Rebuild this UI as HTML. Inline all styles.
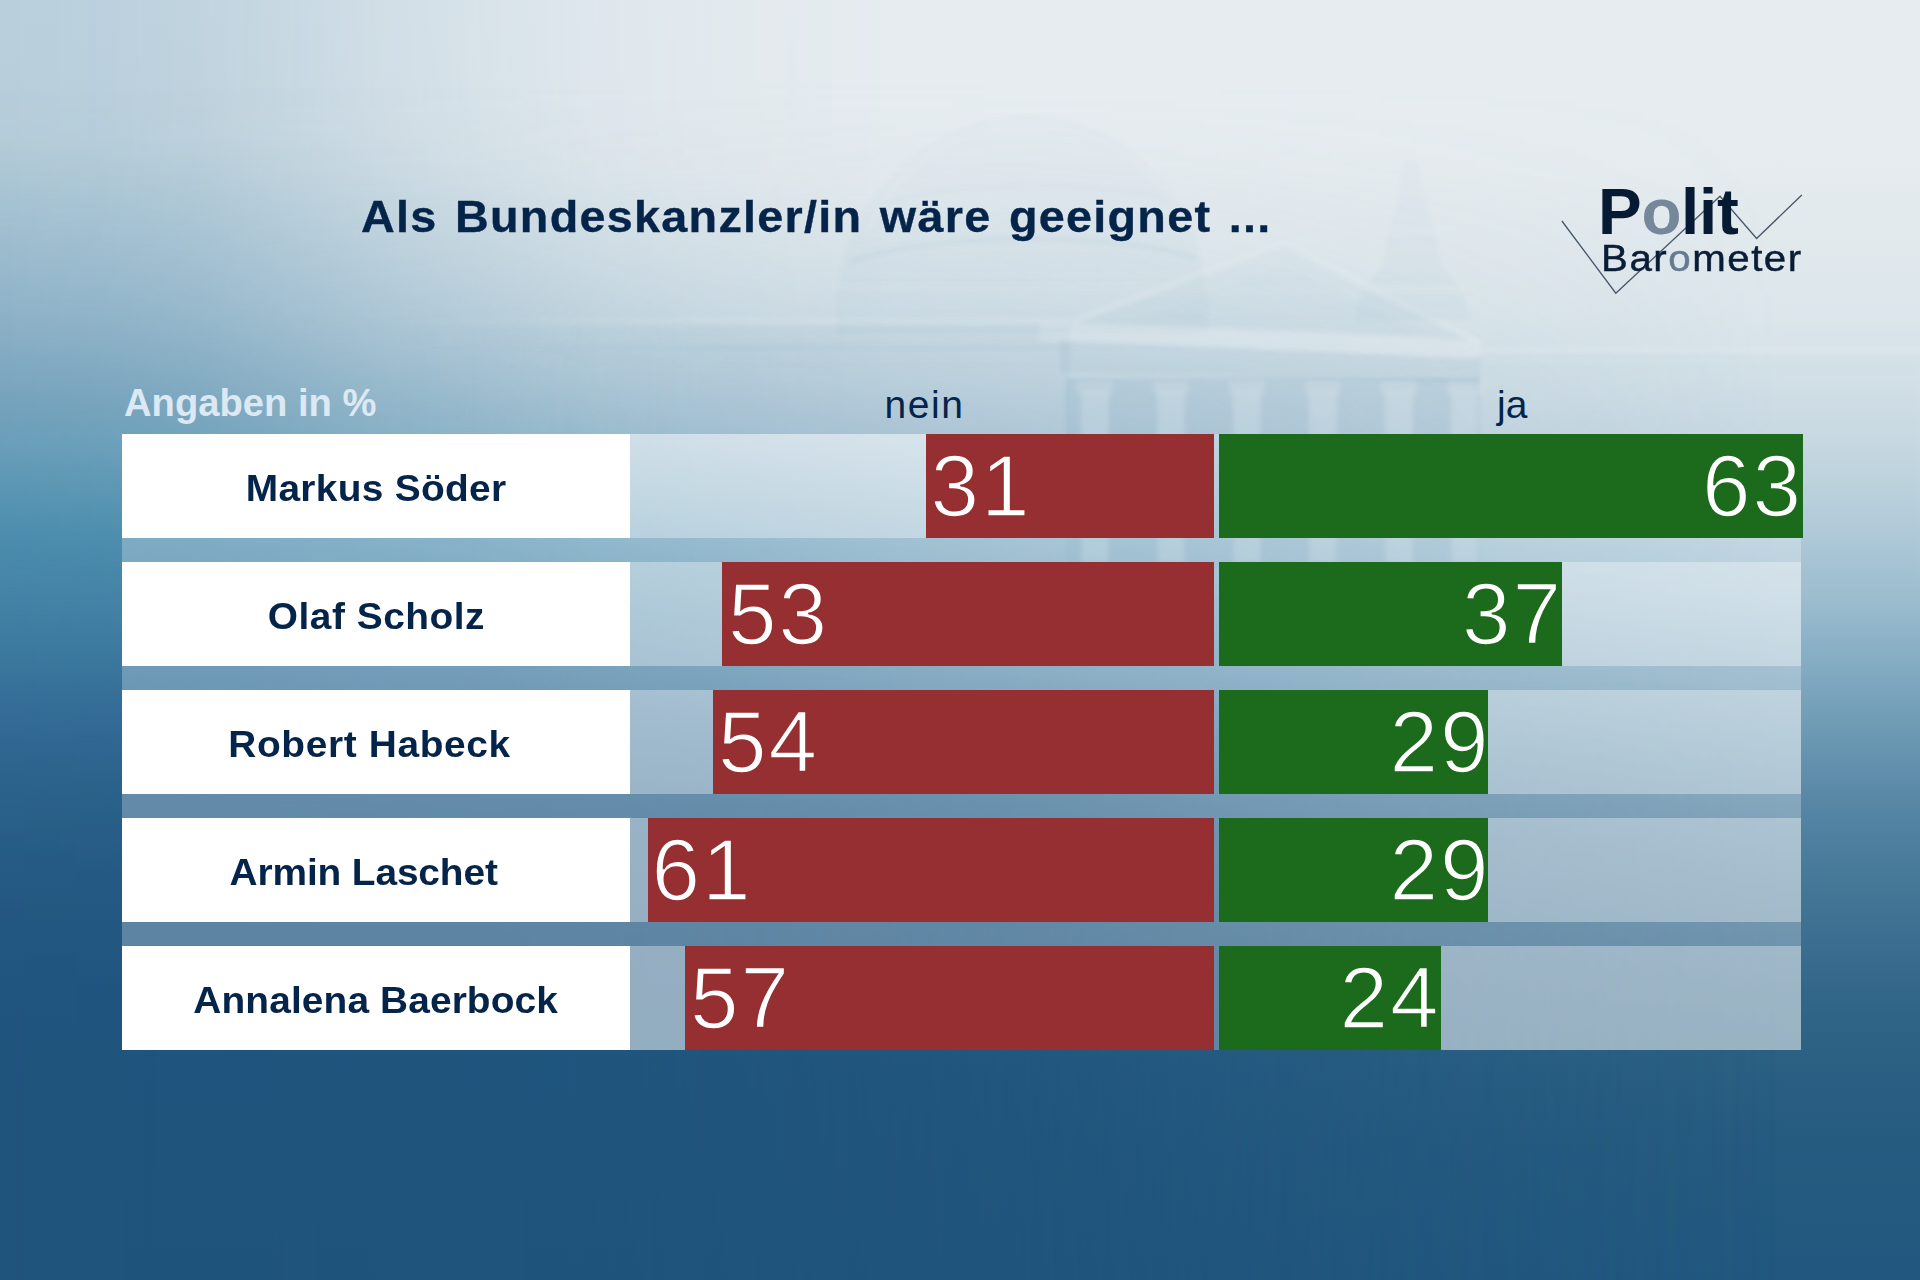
<!DOCTYPE html>
<html lang="de">
<head>
<meta charset="utf-8">
<title>Politbarometer</title>
<style>
*{margin:0;padding:0;box-sizing:border-box}
html,body{width:1920px;height:1280px;overflow:hidden}
body{position:relative;font-family:"Liberation Sans",sans-serif;background:#1f567d;color:#05244a}
.abs{position:absolute}
#bgR{left:0;top:0;width:1920px;height:1280px;background:linear-gradient(to bottom,#e6ecf0 0px,#e6ecf0 100px,#e5ebef 170px,#e1e9ed 240px,#dce6eb 310px,#d5e1e8 380px,#d0dde6 412px,#cbdae3 440px,#bed3de 490px,#b0cad8 540px,#9fbfd0 590px,#8db2c7 640px,#7ba5bd 690px,#6a97b2 740px,#5b8aa8 790px,#4e7f9f 840px,#447696 890px,#3b6e90 940px,#33678a 990px,#2d6285 1040px,#2a5f83 1080px,#265b80 1150px,#22587f 1280px)}
#bgL{left:0;top:0;width:1920px;height:1280px;background:linear-gradient(to bottom,#b9cfdc 0px,#b8cedb 69px,#b5ccd9 137px,#adc7d5 172px,#a5c2d2 206px,#9ebdcf 240px,#97b8cc 275px,#8fb3c8 309px,#86adc4 344px,#7ca7bf 378px,#72a1bb 412px,#6b9fba 440px,#5a96b3 490px,#4b8cad 540px,#4584a6 590px,#3e7ba0 640px,#37719a 690px,#306892 740px,#2b628b 790px,#275d86 840px,#245983 890px,#225781 940px,#20557f 990px,#1f547d 1080px,#1f547c 1280px);-webkit-mask-image:linear-gradient(to right,rgba(0,0,0,1) 0px,rgba(0,0,0,0.95) 100px,rgba(0,0,0,0.84) 200px,rgba(0,0,0,0.64) 300px,rgba(0,0,0,0.44) 400px,rgba(0,0,0,0.28) 500px,rgba(0,0,0,0.15) 600px,rgba(0,0,0,0.08) 700px,rgba(0,0,0,0.03) 800px,rgba(0,0,0,0) 900px);mask-image:linear-gradient(to right,rgba(0,0,0,1) 0px,rgba(0,0,0,0.95) 100px,rgba(0,0,0,0.84) 200px,rgba(0,0,0,0.64) 300px,rgba(0,0,0,0.44) 400px,rgba(0,0,0,0.28) 500px,rgba(0,0,0,0.15) 600px,rgba(0,0,0,0.08) 700px,rgba(0,0,0,0.03) 800px,rgba(0,0,0,0) 900px)}
#bgL2v{left:0;top:0;width:1920px;height:1280px;-webkit-mask-image:linear-gradient(to bottom,rgba(0,0,0,0) 80px,rgba(0,0,0,0.06) 170px,rgba(0,0,0,0.28) 310px,rgba(0,0,0,0.5) 430px,rgba(0,0,0,0.87) 550px,rgba(0,0,0,1) 620px);mask-image:linear-gradient(to bottom,rgba(0,0,0,0) 80px,rgba(0,0,0,0.06) 170px,rgba(0,0,0,0.28) 310px,rgba(0,0,0,0.5) 430px,rgba(0,0,0,0.87) 550px,rgba(0,0,0,1) 620px)}
#bgL2{left:0;top:0;width:1920px;height:1280px;background:linear-gradient(to bottom,#b9cfdc 0px,#b8cedb 69px,#b5ccd9 137px,#adc7d5 172px,#a5c2d2 206px,#9ebdcf 240px,#97b8cc 275px,#8fb3c8 309px,#86adc4 344px,#7ca7bf 378px,#72a1bb 412px,#6b9fba 440px,#5a96b3 490px,#4b8cad 540px,#4584a6 590px,#3e7ba0 640px,#37719a 690px,#306892 740px,#2b628b 790px,#275d86 840px,#245983 890px,#225781 940px,#20557f 990px,#1f547d 1080px,#1f547c 1280px);-webkit-mask-image:linear-gradient(to right,rgba(0,0,0,1) 0px,rgba(0,0,0,0.89) 300px,rgba(0,0,0,0.87) 480px,rgba(0,0,0,0.73) 650px,rgba(0,0,0,0.63) 800px,rgba(0,0,0,0.49) 1000px,rgba(0,0,0,0.36) 1200px,rgba(0,0,0,0.22) 1400px,rgba(0,0,0,0.11) 1600px,rgba(0,0,0,0) 1780px);mask-image:linear-gradient(to right,rgba(0,0,0,1) 0px,rgba(0,0,0,0.89) 300px,rgba(0,0,0,0.87) 480px,rgba(0,0,0,0.73) 650px,rgba(0,0,0,0.63) 800px,rgba(0,0,0,0.49) 1000px,rgba(0,0,0,0.36) 1200px,rgba(0,0,0,0.22) 1400px,rgba(0,0,0,0.11) 1600px,rgba(0,0,0,0) 1780px)}
#bgL3v{left:0;top:0;width:1920px;height:1280px;-webkit-mask-image:linear-gradient(to bottom,rgba(0,0,0,0) 678px,rgba(0,0,0,1) 806px);mask-image:linear-gradient(to bottom,rgba(0,0,0,0) 678px,rgba(0,0,0,1) 806px)}
#bgL3{left:0;top:0;width:1920px;height:1280px;background:linear-gradient(to bottom,#b9cfdc 0px,#b8cedb 69px,#b5ccd9 137px,#adc7d5 172px,#a5c2d2 206px,#9ebdcf 240px,#97b8cc 275px,#8fb3c8 309px,#86adc4 344px,#7ca7bf 378px,#72a1bb 412px,#6b9fba 440px,#5a96b3 490px,#4b8cad 540px,#4584a6 590px,#3e7ba0 640px,#37719a 690px,#306892 740px,#2b628b 790px,#275d86 840px,#245983 890px,#225781 940px,#20557f 990px,#1f547d 1080px,#1f547c 1280px);-webkit-mask-image:linear-gradient(to right,rgba(0,0,0,0.8) 0px,rgba(0,0,0,0.75) 650px,rgba(0,0,0,0.69) 800px,rgba(0,0,0,0.57) 1000px,rgba(0,0,0,0.31) 1200px,rgba(0,0,0,0.14) 1400px,rgba(0,0,0,0.07) 1600px,rgba(0,0,0,0) 1780px);mask-image:linear-gradient(to right,rgba(0,0,0,0.8) 0px,rgba(0,0,0,0.75) 650px,rgba(0,0,0,0.69) 800px,rgba(0,0,0,0.57) 1000px,rgba(0,0,0,0.31) 1200px,rgba(0,0,0,0.14) 1400px,rgba(0,0,0,0.07) 1600px,rgba(0,0,0,0) 1780px)}
#title{left:360.5px;top:191.3px;font-size:44.5px;font-weight:bold;line-height:52px;white-space:nowrap;letter-spacing:1.224px;word-spacing:3px;color:#05244a;-webkit-text-stroke:.35px #05244a;transform:scaleX(1.05);transform-origin:0 0}
#angaben{left:124px;top:380px;font-size:38.2px;font-weight:bold;line-height:46px;white-space:nowrap;color:#dce9f2}
.hdr{font-size:39px;line-height:46px;white-space:nowrap;color:#05244a}
#polit{left:1598px;top:175px;font-size:65.5px;font-weight:bold;line-height:74px;letter-spacing:-0.3px;white-space:nowrap;color:#061a33}
#polit .go{color:#74879b}
#baro{left:1600.5px;top:237.5px;font-size:36.6px;line-height:42px;letter-spacing:1.4px;white-space:nowrap;color:#0a1d36;transform:scaleX(1.1);transform-origin:0 0;-webkit-text-stroke:.45px #0a1d36}
#baro .go2{color:#66798f;-webkit-text-stroke:.45px #66798f}
#panel{left:122px;top:434px;width:1679px;height:616px;background:rgba(255,255,255,.27)}
.row{left:122px;width:1679px;height:104px}
.trk{top:0;height:104px;background:rgba(255,255,255,.345)}
.name{left:0;top:0;width:508px;height:104px;background:#fff;text-align:center;font-weight:bold;font-size:37px;line-height:110px;color:#05244a;white-space:nowrap}
.name span{display:inline-block;transform:scaleX(1.05);transform-origin:50% 50%}
.red{top:0;height:104px;background:#962f31}
.green{top:0;height:104px;left:1097px;background:#1c6b1c}
.num{position:absolute;top:0;font-size:87.3px;line-height:104px;letter-spacing:2px;color:#fff;white-space:nowrap}
.red .num{left:5px;-webkit-text-stroke:1.7px #962f31}
.green .num{right:1px;-webkit-text-stroke:1.7px #1c6b1c}
</style>
</head>
<body>
<div id="bgR" class="abs"></div>
<div id="bgL" class="abs"></div>
<div id="bgL2v" class="abs"><div id="bgL2" class="abs"></div></div>
<div id="bgL3v" class="abs"><div id="bgL3" class="abs"></div></div>


<svg id="bld" class="abs" style="left:0;top:0;opacity:.72;-webkit-mask-image:linear-gradient(to bottom,rgba(0,0,0,.3) 100px,rgba(0,0,0,.55) 240px,#000 380px);mask-image:linear-gradient(to bottom,rgba(0,0,0,.3) 100px,rgba(0,0,0,.55) 240px,#000 380px)" width="1920" height="700" viewBox="0 0 1920 700">
 <defs><linearGradient id="lw" x1="0" y1="0" x2="1" y2="0"><stop offset="0" stop-color="#5e93b3" stop-opacity="0"/><stop offset=".5" stop-color="#5e93b3" stop-opacity=".1"/><stop offset="1" stop-color="#5e93b3" stop-opacity=".1"/></linearGradient><linearGradient id="lw2" x1="0" y1="0" x2="1" y2="0"><stop offset="0" stop-color="#fff" stop-opacity="0"/><stop offset=".5" stop-color="#fff" stop-opacity=".2"/><stop offset="1" stop-color="#fff" stop-opacity=".2"/></linearGradient><filter id="bl" x="-5%" y="-5%" width="110%" height="110%"><feGaussianBlur stdDeviation="2.2"/></filter></defs>
 <g filter="url(#bl)">
  <!-- dome -->
  <path d="M838,288 C846,196 930,116 1028,116 C1120,116 1196,190 1206,290 Z" fill="#5e93b3" fill-opacity=".09"/>
  <path d="M868,230 C900,160 960,128 1028,126 C1098,128 1158,160 1182,226" fill="none" stroke="#ffffff" stroke-opacity=".18" stroke-width="3"/>
  <path d="M850,262 C930,232 1120,232 1196,258" fill="none" stroke="#5e93b3" stroke-opacity=".16" stroke-width="5"/>
  <path d="M880,205 C950,180 1100,180 1172,200" fill="none" stroke="#5e93b3" stroke-opacity=".10" stroke-width="4"/>
  <!-- drum / attic under dome -->
  <rect x="836" y="284" width="372" height="50" fill="#5e93b3" fill-opacity=".08"/>
  <rect x="836" y="284" width="372" height="5" fill="#ffffff" fill-opacity=".2"/>
  <!-- left wing -->
  <rect x="380" y="322" width="690" height="260" fill="url(#lw)"/>
  <rect x="380" y="318" width="690" height="7" fill="url(#lw2)"/>
  <rect x="380" y="345" width="690" height="5" fill="url(#lw)"/>
  <!-- right wing -->
  <rect x="1476" y="352" width="444" height="230" fill="#5e93b3" fill-opacity=".04"/>
  <rect x="1476" y="348" width="444" height="6" fill="#ffffff" fill-opacity=".16"/>
  <!-- pediment -->
  <polygon points="1072,322 1284,243 1478,342" fill="#5e93b3" fill-opacity=".08"/>
  <polyline points="1072,322 1284,243 1478,342" fill="none" stroke="#ffffff" stroke-opacity=".28" stroke-width="5"/>
  <polygon points="1130,322 1284,266 1424,334" fill="#5e93b3" fill-opacity=".05"/>
  <!-- entablature -->
  <polygon points="1040,322 1480,340 1480,358 1040,340" fill="#ffffff" fill-opacity=".22"/>
  <polygon points="1060,340 1480,358 1480,384 1060,372" fill="#5e93b3" fill-opacity=".14"/>
  <!-- portico dark -->
  <rect x="1066" y="378" width="414" height="190" fill="#4f86a8" fill-opacity=".2"/>
  <rect x="1082" y="392" width="26" height="170" fill="#ffffff" fill-opacity=".22"/>
<rect x="1078" y="382" width="34" height="12" fill="#ffffff" fill-opacity=".18"/>
<rect x="1158" y="392" width="26" height="170" fill="#ffffff" fill-opacity=".22"/>
<rect x="1154" y="382" width="34" height="12" fill="#ffffff" fill-opacity=".18"/>
<rect x="1234" y="392" width="26" height="170" fill="#ffffff" fill-opacity=".22"/>
<rect x="1230" y="382" width="34" height="12" fill="#ffffff" fill-opacity=".18"/>
<rect x="1310" y="392" width="26" height="170" fill="#ffffff" fill-opacity=".22"/>
<rect x="1306" y="382" width="34" height="12" fill="#ffffff" fill-opacity=".18"/>
<rect x="1386" y="392" width="26" height="170" fill="#ffffff" fill-opacity=".22"/>
<rect x="1382" y="382" width="34" height="12" fill="#ffffff" fill-opacity=".18"/>
<rect x="1452" y="392" width="26" height="170" fill="#ffffff" fill-opacity=".22"/>
<rect x="1448" y="382" width="34" height="12" fill="#ffffff" fill-opacity=".18"/>

  <!-- tower right -->
  <polygon points="1404,162 1416,162 1424,196 1436,232 1440,262 1462,290 1470,320 1356,320 1362,290 1384,262 1388,232 1398,196" fill="#5e93b3" fill-opacity=".10"/>
  <rect x="1386" y="228" width="52" height="5" fill="#ffffff" fill-opacity=".18"/>
  <rect x="1364" y="286" width="100" height="6" fill="#ffffff" fill-opacity=".18"/>
 </g>
</svg>

<div id="title" class="abs">Als Bundeskanzler/in wäre geeignet ...</div>


<svg class="abs" id="zig" style="left:1540px;top:170px" width="280" height="140" viewBox="0 0 280 140">
 <polyline points="21.9,51 75.8,123.2 180,26.2 216.6,68.5 261.8,25" fill="none" stroke="#46566a" stroke-width="1.3" stroke-linejoin="miter"/>
</svg>
<div id="polit" class="abs">P<span class="go">o</span>lit</div>
<div id="baro" class="abs">Bar<span class="go2">o</span>meter</div>

<div id="angaben" class="abs">Angaben in %</div>
<div class="abs hdr" style="left:884.5px;top:381.5px;letter-spacing:1.6px">nein</div>
<div class="abs hdr" style="left:1497px;top:381.5px">ja</div>

<div id="panel" class="abs"></div>

<div class="abs row" style="top:434px">
 <div class="abs trk" style="left:508px;width:584px"></div><div class="abs trk" style="left:1097px;width:582px"></div>
 <div class="abs name"><span style="letter-spacing:.29px">Markus Söder</span></div>
 <div class="abs red" style="left:804px;width:288px"><span class="num" style="margin-left:-.5px">31</span></div>
 <div class="abs green" style="width:584px"><span class="num" style="margin-right:-1px">63</span></div>
</div>
<div class="abs row" style="top:562px">
 <div class="abs trk" style="left:508px;width:584px"></div><div class="abs trk" style="left:1097px;width:582px"></div>
 <div class="abs name"><span style="letter-spacing:.49px">Olaf Scholz</span></div>
 <div class="abs red" style="left:600px;width:492px"><span class="num" style="margin-left:1px">53</span></div>
 <div class="abs green" style="width:343px"><span class="num" style="margin-right:-2px">37</span></div>
</div>
<div class="abs row" style="top:690px">
 <div class="abs trk" style="left:508px;width:584px"></div><div class="abs trk" style="left:1097px;width:582px"></div>
 <div class="abs name" style="padding-right:12px"><span style="letter-spacing:.61px">Robert Habeck</span></div>
 <div class="abs red" style="left:591px;width:501px"><span class="num">54</span></div>
 <div class="abs green" style="width:269px"><span class="num" style="margin-right:-3.5px">29</span></div>
</div>
<div class="abs row" style="top:818px">
 <div class="abs trk" style="left:508px;width:584px"></div><div class="abs trk" style="left:1097px;width:582px"></div>
 <div class="abs name" style="padding-right:24px"><span style="letter-spacing:-.13px">Armin Laschet</span></div>
 <div class="abs red" style="left:526px;width:566px"><span class="num" style="margin-left:-1.5px">61</span></div>
 <div class="abs green" style="width:269px"><span class="num" style="margin-right:-3.5px">29</span></div>
</div>
<div class="abs row" style="top:946px">
 <div class="abs trk" style="left:508px;width:584px"></div><div class="abs trk" style="left:1097px;width:582px"></div>
 <div class="abs name"><span style="letter-spacing:.11px">Annalena Baerbock</span></div>
 <div class="abs red" style="left:563px;width:529px"><span class="num">57</span></div>
 <div class="abs green" style="width:222px"><span class="num" style="margin-right:-.5px">24</span></div>
</div>
</body>
</html>
